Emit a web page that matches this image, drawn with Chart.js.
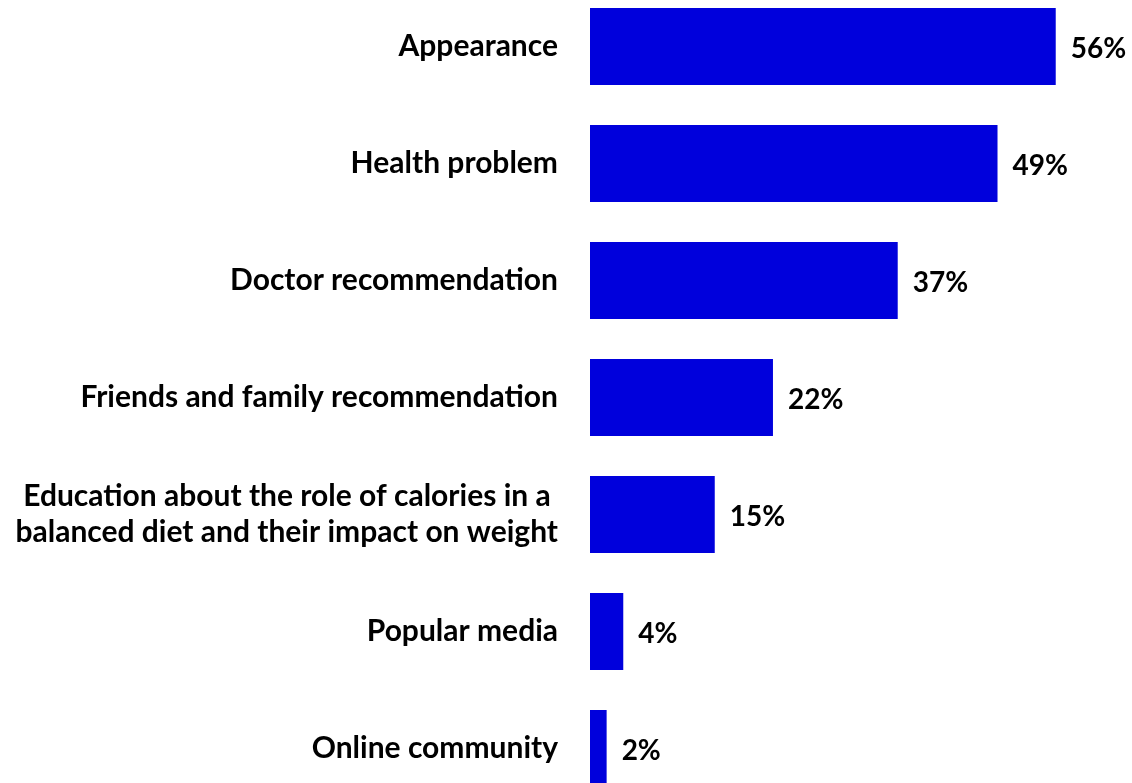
<!DOCTYPE html>
<html>
<head>
<meta charset="utf-8">
<script src="https://cdn.jsdelivr.net/npm/chart.js@4/dist/chart.umd.min.js"></script>
<style>
  html, body { margin: 0; padding: 0; background: #fff; }
  #wrap { position: relative; width: 1132px; height: 783px; overflow: hidden; }
  #chartBox { position: absolute; left: 0; top: -12px; width: 1132px; height: 819px; }
</style>
</head>
<body>
<div id="wrap">
  <div id="chartBox"><canvas id="myChart"></canvas></div>
</div>
<script>
const categories = [
    'Appearance',
    'Health problem',
    'Doctor recommendation',
    'Friends and family recommendation',
    ['Education about the role of calories in a ', 'balanced diet and their impact on weight'],
    'Popular media',
    'Online community'
];
const shares = [56, 49, 37, 22, 15, 4, 2];

const FONT = 'Lato, "Open Sans", sans-serif';

// percent text just past the end of each bar
const valueLabels = {
    id: 'valueLabels',
    afterDatasetsDraw(chart) {
        const ctx = chart.ctx;
        const meta = chart.getDatasetMeta(0);
        ctx.save();
        ctx.font = 'bold 28px ' + FONT;
        ctx.fillStyle = '#000';
        ctx.textAlign = 'left';
        ctx.textBaseline = 'middle';
        meta.data.forEach((bar, i) => {
            ctx.fillText(shares[i] + '%', bar.x + 15, bar.y + 2);
        });
        ctx.restore();
    }
};

new Chart(document.getElementById('myChart'), {
    type: 'bar',
    data: {
        labels: categories,
        datasets: [{
            data: shares,
            backgroundColor: '#0000DC',
            borderWidth: 0,
            categoryPercentage: 1,
            barPercentage: 0.66
        }]
    },
    options: {
        indexAxis: 'y',
        responsive: true,
        maintainAspectRatio: false,
        animation: false,
        layout: { padding: { left: 0, right: 43, top: 0, bottom: 0 } },
        plugins: {
            legend: { display: false },
            tooltip: { enabled: false }
        },
        scales: {
            x: {
                display: false,
                min: 0,
                max: 60
            },
            y: {
                grid: { display: false, drawTicks: false },
                border: { display: false },
                afterFit(scale) {
                    scale.width = 590;
                    // no extra room above/below for the tick text
                    scale.paddingTop = 0;
                    scale.paddingBottom = 0;
                },
                ticks: {
                    color: '#000',
                    padding: 32,
                    font: { family: FONT, size: 30, weight: 'bold', lineHeight: 1.2 }
                }
            }
        }
    },
    plugins: [valueLabels]
});
</script>
</body>
</html>
